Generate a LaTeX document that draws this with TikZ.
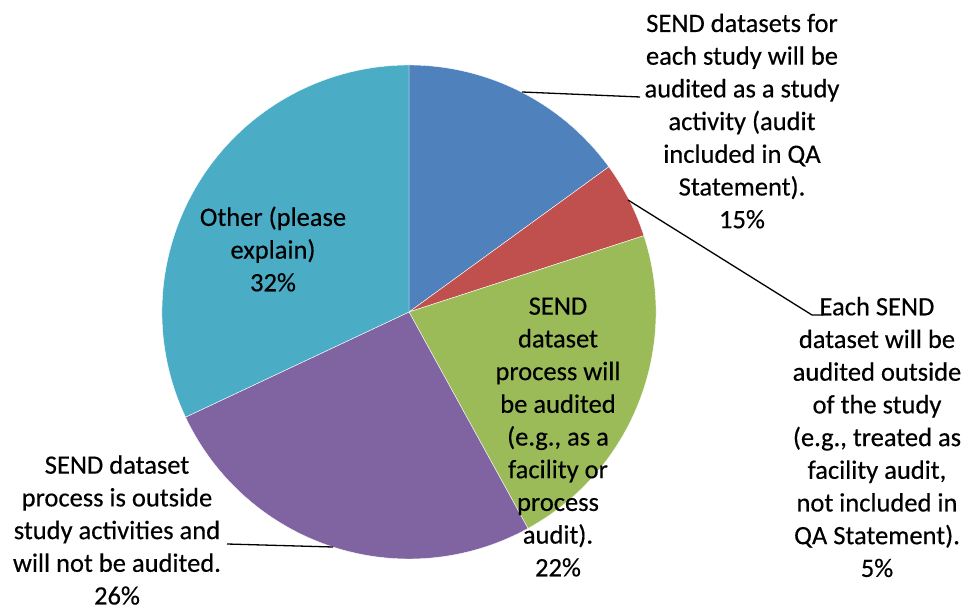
\documentclass[tikz,border=0pt]{standalone}
\usepackage{fontspec}
\setmainfont[FakeBold=0.4]{Carlito}
\usetikzlibrary{positioning}

\definecolor{sliceblue}{HTML}{4F81BD}
\definecolor{slicered}{HTML}{C0504D}
\definecolor{slicegreen}{HTML}{9BBB59}
\definecolor{slicepurple}{HTML}{8064A2}
\definecolor{slicecyan}{HTML}{4BACC6}

\tikzset{
  lbl/.style={align=center, inner sep=0pt, font=\fontsize{26.5}{32.7}\selectfont},
  leader/.style={line width=1.3pt, black},
  slice/.style={draw=white, line width=0.4pt, line join=round}
}

\begin{document}
\begin{tikzpicture}[x=1pt, y=1pt]
         \useasboundingbox (0,0) rectangle (965,610);
         \coordinate (C) at (409,298);
         % slices, clockwise from the top
         \filldraw [slice, fill=sliceblue] (C) -- ++(90:247pt) arc [start angle=90, end angle=36, radius=247pt] -- cycle;
         \filldraw [slice, fill=slicered] (C) -- ++(36:247pt) arc [start angle=36, end angle=18, radius=247pt] -- cycle;
         \filldraw [slice, fill=slicegreen] (C) -- ++(18:247pt) arc [start angle=18, end angle=-61.2, radius=247pt] -- cycle;
         \filldraw [slice, fill=slicepurple] (C) -- ++(-61.2:247pt) arc [start angle=-61.2, end angle=-154.8, radius=247pt] -- cycle;
         \filldraw [slice, fill=slicecyan] (C) -- ++(-154.8:247pt) arc [start angle=-154.8, end angle=-270, radius=247pt] -- cycle;
         % labels
         \node [lbl] (LBlue) at (742,489) {SEND datasets for\\each study will be\\audited as a study\\activity (audit\\included in QA\\Statement).\\15\%};
         \node [lbl] (LRed) at (877,173) {Each SEND\\dataset will be\\audited outside\\of the study\\(e.g., treated as\\facility audit,\\not included in\\QA Statement).\\5\%};
         \node [lbl] (LGreen) at (558,173) {SEND\\dataset\\process will\\be audited\\(e.g., as a\\facility or\\process\\audit).\\22\%};
         \node [lbl] (LPurple) at (117,80) {SEND dataset\\process is outside\\study activities and\\will not be audited.\\26\%};
         \node [lbl] (LCyan) at (273,361) {Other (please\\explain)\\32\%};
         % leader lines
         \coordinate (BlueTip) at (522,518);
         \coordinate (BlueEnd) at (640,513);
         \coordinate (RedTip) at (628,410);
         \coordinate (RedBend) at (812,295);
         \coordinate (RedEnd) at (823,295);
         \coordinate (PurpleTip) at (333,63);
         \coordinate (PurpleEnd) at (227,66);
         \draw [leader] (BlueTip) -- (BlueEnd);
         \draw [leader] (RedTip) -- (RedBend) -- (RedEnd);
         \draw [leader] (PurpleTip) -- (PurpleEnd);
\end{tikzpicture}
\end{document}
